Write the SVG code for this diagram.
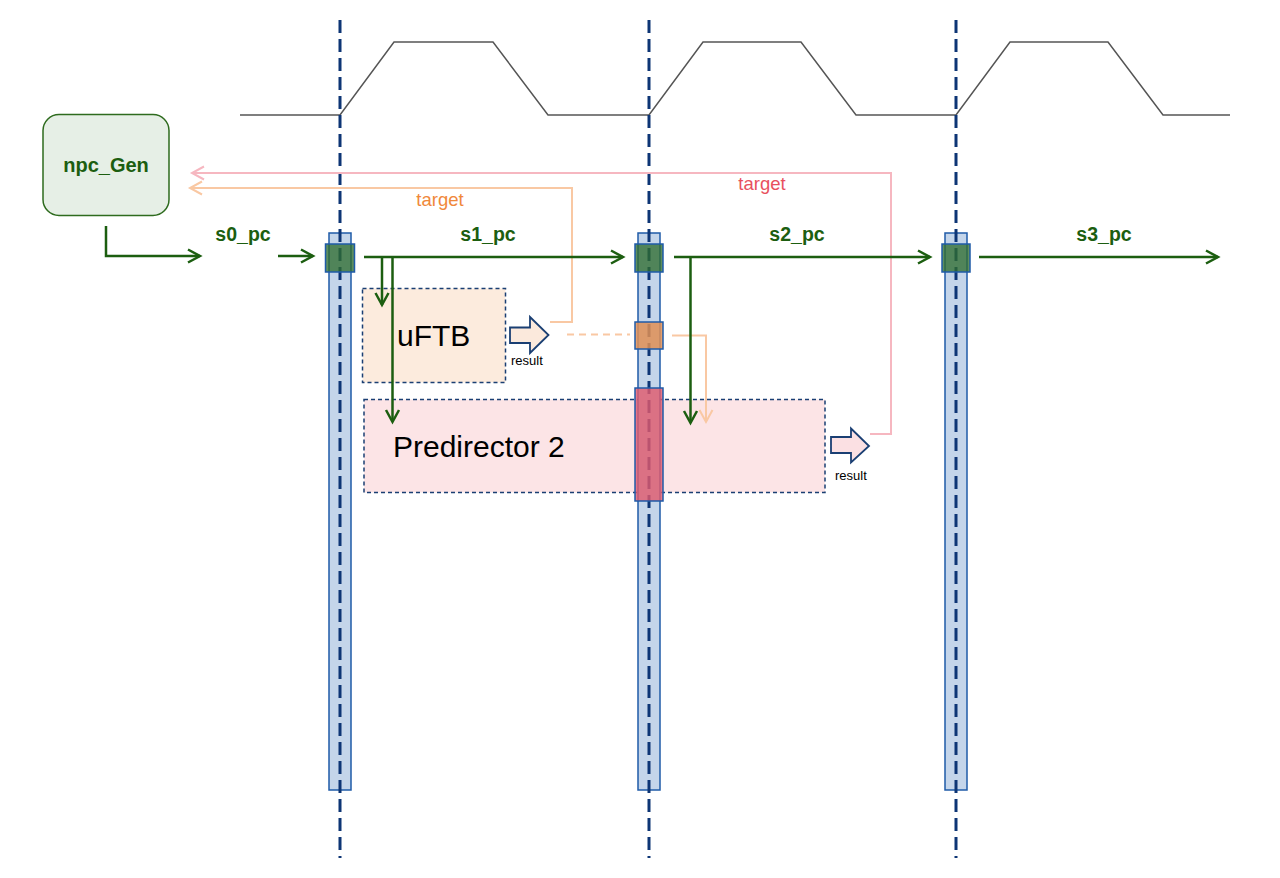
<svg xmlns="http://www.w3.org/2000/svg" width="1280" height="878" viewBox="0 0 1280 878">
<style>
.bar{fill:#c4d5ea;stroke:#1f5ba8;stroke-width:1.5}
.vdash{stroke:#0d3575;stroke-width:3;stroke-dasharray:13 6;fill:none}
.gsq{fill:#2f6d30;fill-opacity:0.78;stroke:#1f5ba8;stroke-width:1.5}
.osq{fill:#e08f55;fill-opacity:0.85;stroke:#1f5ba8;stroke-width:1.5}
.rsq{fill:#e05a6e;fill-opacity:0.82;stroke:#1f5ba8;stroke-width:1.5}
.g{stroke:#1c5e10;stroke-width:2.5;fill:none}
.o{stroke:#f9c8a3;stroke-width:2;fill:none}
.p{stroke:#f6b7c0;stroke-width:2;fill:none}
.lbl{font-family:"Liberation Sans",Arial,sans-serif;font-weight:bold;font-size:19.5px;fill:#1c5e10;text-anchor:middle}
.big{font-family:"Liberation Sans",Arial,sans-serif;font-size:30px;fill:#000}
.res{font-family:"Liberation Sans",Arial,sans-serif;font-size:13px;fill:#000}
.tgt{font-family:"Liberation Sans",Arial,sans-serif;font-size:18.5px;text-anchor:middle}
.box{stroke:#1a3f73;stroke-width:1.5;stroke-dasharray:4 3}
.barr{stroke:#1a3f73;stroke-width:1.8;stroke-linejoin:miter}
</style>
<defs>
<marker id="ag" markerUnits="userSpaceOnUse" markerWidth="16" markerHeight="16" refX="13" refY="8" orient="auto" overflow="visible">
<path d="M1,1.5 L13,8 L1,14.5" fill="none" stroke="#1c5e10" stroke-width="2.5"/>
</marker>
<marker id="ao" markerUnits="userSpaceOnUse" markerWidth="16" markerHeight="16" refX="13" refY="8" orient="auto" overflow="visible">
<path d="M1,1.5 L13,8 L1,14.5" fill="none" stroke="#f9c8a3" stroke-width="2"/>
</marker>
<marker id="ap" markerUnits="userSpaceOnUse" markerWidth="16" markerHeight="16" refX="13" refY="8" orient="auto" overflow="visible">
<path d="M1,1.5 L13,8 L1,14.5" fill="none" stroke="#f6b7c0" stroke-width="2"/>
</marker>
</defs>
<rect width="1280" height="878" fill="#fff"/>

<g id="clock">
<polyline points="240,115 340,115 394,42 493,42 548,115 649,115 703,42 801,42 856,115 956,115 1010,42 1108,42 1163,115 1230,115" fill="none" stroke="#555" stroke-width="1.5"/>
</g>

<g id="npc_Gen">
<rect x="43" y="114.5" width="126" height="101" rx="16" fill="#e6efe6" stroke="#2e6b1e" stroke-width="1.5"/>
<text x="106" y="172" class="lbl" style="font-size:20px">npc_Gen</text>
</g>

<g id="uFTB">
<rect x="362.5" y="288.5" width="143" height="94" fill="#fcebdd" class="box"/>
<text x="397" y="346" class="big">uFTB</text>
</g>

<g id="predirector2">
<rect x="364" y="399.5" width="461" height="93" fill="#fce4e6" class="box"/>
<text x="393" y="457" class="big">Predirector 2</text>
</g>

<g id="stage-bars">
<rect class="bar" x="329" y="233" width="22" height="557"/>
<rect class="bar" x="638" y="233" width="22" height="557"/>
<rect class="bar" x="945" y="233" width="22" height="557"/>
<line class="vdash" x1="340" y1="20" x2="340" y2="858"/>
<line class="vdash" x1="649" y1="20" x2="649" y2="858"/>
<line class="vdash" x1="956" y1="20" x2="956" y2="858"/>
<rect class="gsq" x="325.5" y="244" width="29" height="28"/>
<rect class="gsq" x="635" y="244" width="28" height="28"/>
<rect class="gsq" x="942" y="244" width="28" height="28"/>
<rect class="osq" x="635" y="322" width="28" height="27"/>
<rect class="rsq" x="635" y="388" width="28" height="113"/>
</g>

<g id="result-arrows">
<path class="barr" fill="#fbe9dc" d="M510,327.5 H530 V317 L548.5,335 L530,353 V343 H510 Z"/>
<text x="511" y="365" class="res">result</text>
<path class="barr" fill="#fbe0e3" d="M831,437 H851 V428.5 L869,446 L851,462.5 V453 H831 Z"/>
<text x="835" y="480" class="res">result</text>
</g>

<g id="connectors">
<polyline class="o" points="550,322 572,322 572,188 190,188" marker-end="url(#ao)"/>
<polyline class="p" points="870,434 891,434 891,173 192,173" marker-end="url(#ap)"/>
<line class="o" x1="567" y1="334.5" x2="630" y2="334.5" stroke-dasharray="7 5"/>
<polyline class="o" points="672,335.5 706,335.5 706,422" marker-end="url(#ao)"/>
<polyline class="g" points="106,226 106,256 200,256" marker-end="url(#ag)"/>
<line class="g" x1="278" y1="256" x2="313" y2="256" marker-end="url(#ag)"/>
<line class="g" x1="364" y1="257" x2="623" y2="257" marker-end="url(#ag)"/>
<line class="g" x1="382" y1="257" x2="382" y2="305" marker-end="url(#ag)"/>
<line class="g" x1="392.5" y1="257" x2="392.5" y2="422" marker-end="url(#ag)"/>
<line class="g" x1="674" y1="257" x2="930" y2="257" marker-end="url(#ag)"/>
<line class="g" x1="690.5" y1="257" x2="690.5" y2="423" marker-end="url(#ag)"/>
<line class="g" x1="979" y1="257" x2="1218" y2="257" marker-end="url(#ag)"/>
</g>

<g id="labels">
<text x="243" y="241" class="lbl">s0_pc</text>
<text x="488" y="241" class="lbl">s1_pc</text>
<text x="797" y="241" class="lbl">s2_pc</text>
<text x="1104" y="241" class="lbl">s3_pc</text>
<text x="440" y="206" class="tgt" fill="#f0883a">target</text>
<text x="762" y="190" class="tgt" fill="#e8505e">target</text>
</g>
</svg>
